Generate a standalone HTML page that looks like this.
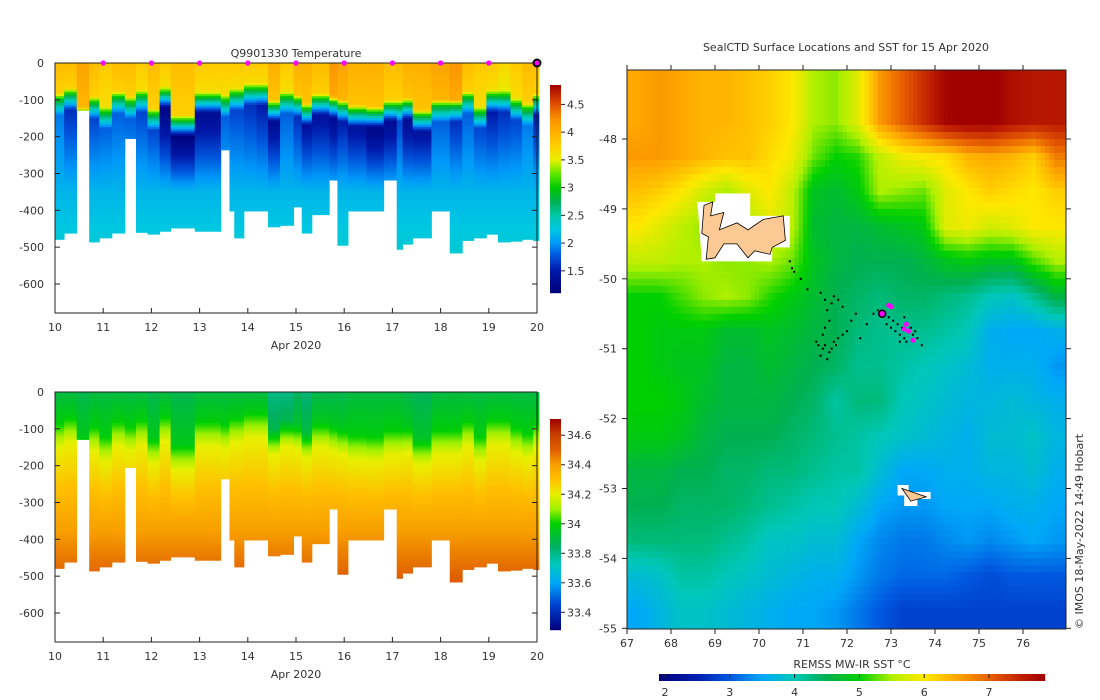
<!DOCTYPE html>
<html><head><meta charset="utf-8">
<style>
html,body{margin:0;padding:0;background:#fff;}
svg{display:block;font-family:"DejaVu Sans","Liberation Sans",sans-serif;}
text{fill:#333;font-size:11px;}
</style></head>
<body>
<svg id="root" width="1100" height="700" viewBox="0 0 1100 700" xmlns="http://www.w3.org/2000/svg">
<g id="tpanel"></g>
<g id="spanel"></g>
<g id="mpanel"></g>
</svg>
<script>
// ---------- profile data ----------
const profileDays = [10,10.19,10.45,10.71,10.92,11.18,11.45,11.68,11.92,12.17,12.4,12.9,13.44,13.62,13.72,13.92,14.18,14.42,14.67,14.95,15.12,15.33,15.69,15.86,16.08,16.46,16.82,17.09,17.21,17.42,17.81,18.19,18.45,18.69,18.95,19.19,19.45,19.69,19.92];
const profileEndDay = 20.04;
const maxDepth = [479,462,129,486,475,462,205,460,465,457,448,457,236,402,475,402,402,445,441,391,462,412,318,495,402,402,318,506,492,475,402,516,482,475,465,486,484,479,482];
const mixedLayer = [82,68,120,91,118,77,91,73,123,64,141,77,86,68,68,55,55,100,77,86,109,82,91,100,114,118,100,100,95,127,100,100,77,118,73,73,95,109,82];
const surfaceTemp = [3.9,3.9,4.1,3.9,3.8,3.9,3.9,3.8,3.9,3.8,3.9,3.8,3.8,3.8,3.8,3.8,3.8,4.0,3.8,4.0,4.0,3.9,4.2,4.1,4.0,4.0,3.9,3.9,4.0,4.0,4.1,4.2,3.9,3.8,3.8,3.7,3.8,3.9,3.9];
const minTemp = [1.9,1.6,1.8,1.7,1.8,1.8,1.8,1.7,1.7,1.2,1.15,1.3,1.8,1.7,1.7,1.6,1.5,1.3,1.8,1.6,1.4,1.4,1.3,1.5,1.4,1.2,1.3,1.7,1.3,1.4,1.8,1.6,1.8,1.7,1.5,1.6,1.7,1.9,1.5];
const surfaceSal = [33.9,33.9,33.88,33.9,33.9,33.9,33.9,33.9,33.88,33.9,33.88,33.9,33.9,33.9,33.9,33.9,33.9,33.8,33.8,33.85,33.82,33.88,33.88,33.88,33.9,33.9,33.9,33.9,33.88,33.86,33.9,33.9,33.9,33.9,33.9,33.9,33.9,33.9,33.9];
const surfaceMarkerDays = [11,12,13,14,15,16,17,18,19];
const dayTicks = [10,11,12,13,14,15,16,17,18,19,20];
const depthTicks = [0,-100,-200,-300,-400,-500,-600];
const tempTicks = [1.5,2,2.5,3,3.5,4,4.5];
const salTicks = [33.4,33.6,33.8,34,34.2,34.4,34.6];

// ---------- SST data (rows lat -47.75..-54.75, cols lon 67.25..76.75) ----------
const sstLats = [-47.75,-48.25,-48.75,-49.25,-49.75,-50.25,-50.75,-51.25,-51.75,-52.25,-52.75,-53.25,-53.75,-54.25,-54.75];
const sstLons = [67.25,67.75,68.25,68.75,69.25,69.75,70.25,70.75,71.25,71.75,72.25,72.75,73.25,73.75,74.25,74.75,75.25,75.75,76.25,76.75];
const sstGrid = [
[6.5,6.6,6.5,6.4,6.4,6.3,6.2,6.0,5.5,5.4,5.8,6.6,7.0,7.4,7.8,7.9,7.9,7.7,7.6,7.6],
[6.6,6.6,6.5,6.4,6.3,6.3,6.1,5.9,5.3,5.0,5.1,5.6,5.9,6.0,6.1,6.4,6.5,6.4,6.2,6.8],
[6.3,6.2,6.0,5.7,5.5,5.8,6.0,5.6,4.8,4.7,4.9,5.5,5.4,5.3,5.8,6.0,6.2,6.1,6.0,6.2],
[6.0,5.8,5.6,5.4,5.3,5.5,5.8,5.6,4.7,4.6,4.6,4.7,4.8,4.9,5.8,5.9,5.7,5.8,6.0,6.0],
[5.6,5.6,5.5,5.5,5.4,5.4,5.5,5.3,4.8,4.6,4.5,4.5,4.5,4.6,4.8,4.9,4.8,4.8,5.2,5.5],
[5.0,5.0,5.2,5.4,5.5,5.4,5.1,4.9,4.7,4.5,4.4,4.3,4.4,4.4,4.3,4.2,4.0,3.9,4.2,4.6],
[5.0,4.9,4.9,4.9,4.7,4.7,4.8,4.7,4.6,4.5,4.3,4.2,4.2,4.2,4.1,4.0,3.6,3.5,3.5,3.6],
[5.0,4.9,4.8,4.8,4.6,4.6,4.7,4.6,4.5,4.4,4.2,4.2,4.1,4.0,3.9,3.8,3.6,3.6,3.6,3.4],
[5.0,5.0,4.9,4.7,4.6,4.6,4.6,4.5,4.4,4.1,4.3,4.3,4.0,3.9,3.8,3.7,3.7,3.8,3.7,3.6],
[4.9,4.9,4.8,4.6,4.5,4.5,4.5,4.4,4.3,4.2,4.1,4.0,3.9,3.8,3.7,3.6,3.8,3.8,3.9,3.7],
[4.6,4.6,4.5,4.5,4.4,4.4,4.3,4.3,4.2,4.1,4.1,3.8,3.5,3.5,3.6,3.6,3.7,3.7,3.8,3.6],
[4.5,4.5,4.4,4.4,4.4,4.3,4.2,4.1,4.0,4.0,3.8,3.5,3.4,3.4,3.5,3.5,3.5,3.6,3.6,3.5],
[4.3,4.3,4.3,4.3,4.2,4.1,3.9,3.9,3.8,3.8,3.5,3.3,3.2,3.2,3.3,3.4,3.3,3.4,3.5,3.4],
[3.8,3.9,4.1,4.1,4.0,3.9,3.8,3.7,3.6,3.6,3.4,3.2,3.1,3.1,3.1,3.0,2.9,3.0,3.0,3.0],
[3.5,3.7,3.9,3.9,3.8,3.7,3.6,3.5,3.5,3.4,3.2,3.0,2.8,2.8,2.8,2.8,2.8,2.8,2.8,2.8]];
const lonTicks = [67,68,69,70,71,72,73,74,75,76];
const latTicks = [-48,-49,-50,-51,-52,-53,-54,-55];
const sstBarTicks = [2,3,4,5,6,7];
const kergLon = [68.75,68.95,68.9,69.2,69.1,69.5,69.75,70.1,70.55,70.6,70.3,70.25,69.9,69.75,69.5,69.2,69.0,68.8,68.85,68.7];
const kergLat = [-48.95,-48.9,-49.1,-49.05,-49.3,-49.2,-49.3,-49.15,-49.1,-49.45,-49.55,-49.65,-49.6,-49.7,-49.5,-49.5,-49.7,-49.72,-49.4,-49.35];
const heardLon = [73.25,73.8,73.45];
const heardLat = [-53.0,-53.12,-53.18];
const dotLon = [70.7,70.75,70.8,70.95,71.1,71.4,71.5,71.65,71.7,71.8,71.55,71.6,71.9,71.3,71.35,71.45,71.5,71.6,71.7,71.8,71.9,72.0,71.4,71.55,71.65,71.75,71.5,71.45,72.1,72.2,72.3,72.45,72.6,72.7,72.9,73.0,73.1,73.2,73.25,73.3,73.35,73.4,73.5,73.6,73.7,73.05,73.15,73.3,73.45,72.95,73.2,73.55];
const dotLat = [-49.75,-49.85,-49.9,-50.0,-50.15,-50.2,-50.3,-50.35,-50.25,-50.3,-50.45,-50.6,-50.4,-50.9,-50.95,-51.0,-50.95,-51.05,-50.9,-50.85,-50.8,-50.75,-51.1,-51.15,-51.0,-50.95,-50.7,-50.8,-50.6,-50.5,-50.85,-50.65,-50.5,-50.45,-50.65,-50.7,-50.75,-50.8,-50.7,-50.85,-50.9,-50.75,-50.8,-50.85,-50.95,-50.6,-50.65,-50.55,-50.7,-50.55,-50.9,-50.75];
const magLon = [72.8,72.95,73.0,73.35,73.4,73.5,73.3];
const magLat = [-50.5,-50.38,-50.4,-50.65,-50.75,-50.88,-50.72];

// ---------- helpers ----------
const NS='http://www.w3.org/2000/svg';
function mk(tag, attrs, parent){const e=document.createElementNS(NS,tag);for(const k in attrs)e.setAttribute(k,attrs[k]);parent.appendChild(e);return e;}
function hex(h){return [parseInt(h.slice(1,3),16),parseInt(h.slice(3,5),16),parseInt(h.slice(5,7),16)];}
function cmap(stops, v){
  if(v<=stops[0][0])return 'rgb('+hex(stops[0][1]).join(',')+')';
  for(let i=1;i<stops.length;i++){if(v<=stops[i][0]){const a=stops[i-1],b=stops[i];const t=(v-a[0])/(b[0]-a[0]);const ca=hex(a[1]),cb=hex(b[1]);return 'rgb('+ca.map((c,j)=>Math.round(c+(cb[j]-c)*t)).join(',')+')';}}
  return 'rgb('+hex(stops[stops.length-1][1]).join(',')+')';
}
const tStops=[[1.1,'#00007a'],[1.5,'#0018a8'],[1.75,'#0050d8'],[2.0,'#0098f8'],[2.25,'#00c8e0'],[2.5,'#00c8a8'],[2.75,'#00b050'],[3.0,'#00c800'],[3.25,'#60e800'],[3.5,'#e8f000'],[3.75,'#ffd000'],[4.0,'#ffb000'],[4.25,'#f89000'],[4.5,'#e05000'],[4.85,'#a00000']];
const sStops=[[33.28,'#00007a'],[33.45,'#0040d0'],[33.6,'#00a8f8'],[33.72,'#00c8c0'],[33.85,'#00b060'],[34.0,'#00d000'],[34.1,'#a0f000'],[34.2,'#e8f000'],[34.3,'#ffc000'],[34.4,'#f8a000'],[34.5,'#e06000'],[34.6,'#c84000'],[34.71,'#a00000']];
const sstStops=[[1.9,'#00007a'],[2.5,'#0020b0'],[3.0,'#0058e0'],[3.5,'#00a8f8'],[4.0,'#00c8b8'],[4.5,'#00b050'],[5.0,'#00d000'],[5.5,'#b0f000'],[6.0,'#ffe800'],[6.5,'#ffa800'],[7.0,'#e86000'],[7.5,'#c02000'],[7.85,'#a00000']];

function tempProfile(i,z){
  const m=mixedLayer[i],ts=surfaceTemp[i],tm=minTemp[i];
  if(z<m)return ts-0.15*z/m;
  if(z<m+15)return (ts-0.15)+(3.0-(ts-0.15))*(z-m)/15;
  const zmin=m+60;
  if(z<zmin)return 3.0+(tm-3.0)*(z-m-15)/45;
  if(z<350)return tm+(2.15-tm)*(z-zmin)/(350-zmin);
  return 2.15+0.15*(z-350)/150;
}
function salProfile(i,z){
  const m=mixedLayer[i],s0=surfaceSal[i];
  if(z<m)return s0+0.08*z/m;
  if(z<m+70)return s0+0.08+(34.2-s0-0.08)*(z-m)/70;
  if(z<350)return 34.2+0.18*(z-m-70)/(350-m-70);
  return 34.38+0.12*(z-350)/150;
}

function section(g, y0, profFn, stops, cbTop, cbBot, vTop, vBot, ticks, fmt, withTitle){
  const xl=55,xr=537,yb=y0+250;
  const X=d=>xl+(d-10)*(xr-xl)/10;
  const Y=z=>y0+z*(221/600);
  for(let i=0;i<profileDays.length;i++){
    const d0=profileDays[i],d1=i+1<profileDays.length?profileDays[i+1]:profileEndDay;
    const x0=X(d0),x1=X(d1);
    for(let z=0;z<maxDepth[i];z+=6){
      const c=cmap(stops,profFn(i,z+3));
      const r=mk('rect',{x:x0.toFixed(2),y:Y(z).toFixed(2),width:(x1-x0+0.4).toFixed(2),height:(Y(Math.min(z+6,maxDepth[i]))-Y(z)+0.4).toFixed(2),fill:c},g);
      
      
    }
  }
  const fr=mk('path',{d:`M${xl},${y0}H${xr}V${yb}H${xl}Z`,fill:'none',stroke:'#222','stroke-width':1},g);
  
  dayTicks.forEach(d=>{
    mk('line',{x1:X(d),x2:X(d),y1:yb,y2:yb-5,stroke:'#222'},g);
    const t=mk('text',{x:X(d),y:yb+18,'text-anchor':'middle'},g);t.textContent=d;
    
  });
  const xt=mk('text',{x:296,y:yb+36,'text-anchor':'middle'},g);xt.textContent='Apr 2020';
  
  depthTicks.forEach(v=>{
    const y=Y(-v);
    mk('line',{x1:xl,x2:xl+5,y1:y,y2:y,stroke:'#222'},g);
    mk('line',{x1:xr,x2:xr-5,y1:y,y2:y,stroke:'#222'},g);
    const t=mk('text',{x:xl-11,y:y+4,'text-anchor':'end'},g);t.textContent=v;
    
  });
  const cb=mk('g',{},g);
  
  for(let y=cbTop;y<cbBot;y+=1){
    const v=vTop+(vBot-vTop)*(y+0.5-cbTop)/(cbBot-cbTop);
    mk('rect',{x:550,y:y,width:11,height:1.2,fill:cmap(stops,v)},cb);
  }
  ticks.forEach(v=>{
    const y=cbTop+(v-vTop)/(vBot-vTop)*(cbBot-cbTop);
    mk('line',{x1:561,x2:565,y1:y,y2:y,stroke:'#222'},cb);
    const t=mk('text',{x:567,y:y+4},cb);t.textContent=fmt(v);
    
  });
  if(withTitle){
    const t=mk('text',{x:296,y:57,'text-anchor':'middle','font-size':'12'},g);t.textContent='Q9901330  Temperature';
    
    surfaceMarkerDays.forEach(d=>{
      const m=mk('circle',{cx:X(d),cy:y0,r:2.6,fill:'#ff00ff'},g);
      
    });
    const m=mk('circle',{cx:X(20),cy:y0,r:3.5,fill:'#ff00ff',stroke:'#000','stroke-width':2},g);
    
  }
}
section(document.getElementById('tpanel'),63,tempProfile,tStops,85,293,4.85,1.1,tempTicks,v=>String(v),true);
section(document.getElementById('spanel'),392,salProfile,sStops,419,630,34.71,33.28,salTicks,v=>String(v),false);

// ---------- map ----------
(function(){
  const g=document.getElementById('mpanel');
  const L=627,R=1066,T=70,B=629;
  const LX=lon=>627+(lon-67)*44;
  const LY=lat=>139+(-48-lat)*69.9;
  function sstAt(lon,lat){
    let fi=(lon-sstLons[0])/0.5, fj=(sstLats[0]-lat)/0.5;
    fi=Math.max(0,Math.min(sstLons.length-1.001,fi));fj=Math.max(0,Math.min(sstLats.length-1.001,fj));
    const i=Math.floor(fi),j=Math.floor(fj),a=fi-i,b=fj-j;
    const r0=sstGrid[j],r1=sstGrid[j+1];
    return (r0[i]*(1-a)+r0[i+1]*a)*(1-b)+(r1[i]*(1-a)+r1[i+1]*a)*b;
  }
  const field=mk('g',{},g);
  
  const dl=0.1,dt=0.1;
  for(let lat=-46.9;lat>-55.05;lat-=dt){
    for(let lon=67;lon<77;lon+=dl){
      const x0=Math.max(L,LX(lon)),y0=Math.max(T,LY(lat));
      const x1=Math.min(R,LX(lon+dl)),y1=Math.min(B,LY(lat-dt));
      if(x1<=x0||y1<=y0)continue;
      mk('rect',{x:x0.toFixed(1),y:y0.toFixed(1),width:(x1-x0+0.5).toFixed(1),height:(y1-y0+0.5).toFixed(1),fill:cmap(sstStops,sstAt(lon+dl/2,lat-dt/2))},field);
    }
  }
  const h1=mk('path',{d:`M${LX(68.6)},${LY(-48.9)}H${LX(69.0)}V${LY(-48.78)}H${LX(69.8)}V${LY(-49.1)}H${LX(70.7)}V${LY(-49.55)}H${LX(70.3)}V${LY(-49.75)}H${LX(68.7)}Z`,fill:'#fff'},g);
  
  const h2=mk('path',{d:`M${LX(73.15)},${LY(-52.95)}H${LX(73.4)}V${LY(-53.05)}H${LX(73.9)}V${LY(-53.15)}H${LX(73.6)}V${LY(-53.25)}H${LX(73.3)}V${LY(-53.1)}H${LX(73.15)}Z`,fill:'#fff'},g);
  
  const k=mk('polygon',{points:kergLon.map((v,i)=>LX(v)+','+LY(kergLat[i])).join(' '),fill:'#fcc894',stroke:'#000','stroke-width':0.8},g);
  
  const hd=mk('polygon',{points:heardLon.map((v,i)=>LX(v)+','+LY(heardLat[i])).join(' '),fill:'#fcc894',stroke:'#000','stroke-width':0.8},g);
  
  dotLon.forEach((v,i)=>{
    const c=mk('rect',{x:LX(v)-1,y:LY(dotLat[i])-1,width:2,height:2,fill:'#000'},g);
    
  });
  magLon.forEach((v,i)=>{
    const c=mk('circle',{cx:LX(v),cy:LY(magLat[i]),r:2.5,fill:'#ff00ff'},g);
    
  });
  const cur=mk('circle',{cx:LX(72.8),cy:LY(-50.5),r:3.5,fill:'#ff00ff',stroke:'#000','stroke-width':1.5},g);
  
  const fr=mk('rect',{x:L,y:T,width:R-L,height:B-T,fill:'none',stroke:'#222'},g);
  
  lonTicks.forEach(v=>{
    const x=LX(v);
    mk('line',{x1:x,x2:x,y1:B,y2:B+5,stroke:'#222'},g);
    mk('line',{x1:x,x2:x,y1:T,y2:T-5,stroke:'#222'},g);
    const t=mk('text',{x:x,y:B+18,'text-anchor':'middle'},g);t.textContent=v;
    
  });
  latTicks.forEach(v=>{
    const y=LY(v);
    mk('line',{x1:L,x2:L-5,y1:y,y2:y,stroke:'#222'},g);
    mk('line',{x1:R,x2:R+5,y1:y,y2:y,stroke:'#222'},g);
    const t=mk('text',{x:L-10,y:y+4,'text-anchor':'end'},g);t.textContent=v;
    
  });
  const tt=mk('text',{x:846,y:51,'text-anchor':'middle'},g);tt.textContent='SealCTD Surface Locations and SST for 15 Apr 2020';
  
  const cb=mk('g',{},g);
  
  const BX=v=>665+(v-2)*64.8;
  for(let x=659;x<1045;x++){
    mk('rect',{x:x,y:674,width:1.2,height:7,fill:cmap(sstStops,2+(x+0.5-665)/64.8)},cb);
  }
  sstBarTicks.forEach(v=>{
    mk('line',{x1:BX(v),x2:BX(v),y1:674,y2:678,stroke:'#222'},cb);
    const t=mk('text',{x:BX(v),y:696,'text-anchor':'middle'},cb);t.textContent=v;
    
  });
  const ct=mk('text',{x:852,y:668,'text-anchor':'middle'},g);ct.textContent='REMSS MW-IR SST °C';
  
  const cp=mk('text',{x:1083,y:629,'font-size':'9.5',transform:'rotate(-90 1083 629)'},g);cp.textContent='© IMOS 18-May-2022 14:49 Hobart';
  
})();
</script>
</body></html>
